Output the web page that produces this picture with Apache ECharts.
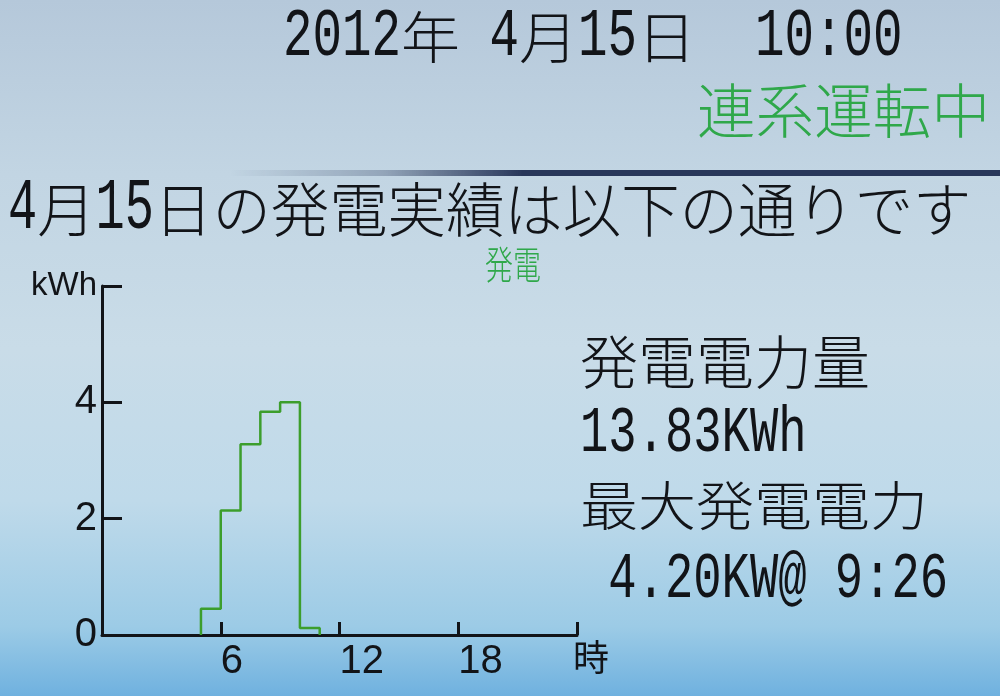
<!DOCTYPE html>
<html>
<head>
<meta charset="utf-8">
<script src="https://cdn.jsdelivr.net/npm/echarts@6/dist/echarts.min.js"></script>
<style>
html,body{margin:0;padding:0;}
#main{width:1000px;height:696px;background:linear-gradient(180deg,#b5c8da 0%,#c2d5e3 25%,#c9dce8 50%,#bfdaea 72%,#9ccbe6 90%,#6fb1df 100%);}
</style>
</head>
<body>
<div id="main"></div>
<script>
// ---- data ----
const dateLine = '2012年 4月15日  10:00';
const statusText = '連系運転中';
const headline = '4月15日の発電実績は以下の通りです';
const seriesName = '発電';
const totalLabel = '発電電力量';
const totalValue = '13.83KWh';
const peakLabel = '最大発電電力';
const peakValue = ' 4.20KW@ 9:26';
const yUnit = 'kWh';
const xUnit = '時';
const hours = [5, 6, 7, 8, 9, 10];
const kwh = [0.45, 2.14, 3.28, 3.84, 4.00, 0.12];
const xTickLabels = [6, 12, 18];
const yTickLabels = [0, 2, 4];

// ---- text layout helper (monospaced LCD font emulation) ----
function monoLine(str, left, cy, cw, o) {
  const els = [];
  let col = 0, i = 0;
  while (i < str.length) {
    const wide = str.charCodeAt(i) > 0x7f;
    let j = i;
    while (j < str.length && (str.charCodeAt(j) > 0x7f) === wide) j++;
    const run = str.slice(i, j);
    const x = left + col * cw;
    if (wide) {
      els.push({type: 'text', x: x, y: cy, scaleY: o.ky || 1, silent: true, z: 10,
        style: {text: run, fill: o.fill, font: '300 ' + (2 * cw) + 'px "Noto Sans CJK JP"',
          textAlign: 'left', textVerticalAlign: 'middle'}});
      col += 2 * run.length;
    } else {
      els.push({type: 'text', x: x, y: cy, scaleY: o.ay || 1, silent: true, z: 10,
        style: {text: run, fill: o.fill, font: (cw / 0.6).toFixed(1) + 'px "Liberation Mono"',
          textAlign: 'left', textVerticalAlign: 'middle'}});
      col += run.length;
    }
    i = j;
  }
  return els;
}

const black = '#121418';
const green = '#2fa84a';
let graphics = [];
graphics = graphics.concat(monoLine(dateLine, 283, 37, 29.5, {fill: black, ky: 0.95, ay: 1.41}));
graphics = graphics.concat(monoLine(statusText, 697, 111, 29.3, {fill: green, ky: 1.0}));
graphics = graphics.concat(monoLine(headline, 8, 209, 29.2, {fill: black, ky: 1.02, ay: 1.5}));
graphics = graphics.concat(monoLine(seriesName, 485, 264, 14, {fill: green, ky: 1.4}));
graphics = graphics.concat(monoLine(totalLabel, 580, 362, 29, {fill: black, ky: 1.0}));
graphics = graphics.concat(monoLine(totalValue, 580, 434, 28.3, {fill: black, ay: 1.38}));
graphics = graphics.concat(monoLine(peakLabel, 580, 506, 29, {fill: black, ky: 0.92}));
graphics = graphics.concat(monoLine(peakValue, 580, 580, 28.3, {fill: black, ay: 1.38}));
graphics.push({
  type: 'rect', silent: true, z: 5,
  shape: {x: 230, y: 170, width: 770, height: 6},
  style: {fill: {type: 'linear', x: 0, y: 0, x2: 1, y2: 0, colorStops: [
    {offset: 0, color: 'rgba(40,55,90,0)'},
    {offset: 0.2, color: 'rgba(40,55,90,0.3)'},
    {offset: 0.38, color: 'rgba(40,55,90,1)'},
    {offset: 1, color: 'rgba(40,55,90,1)'}]}}
});

// ---- series data built from arrays ----
const stepData = [[hours[0], 0]];
hours.forEach((h, i) => stepData.push([h, kwh[i]]));
stepData.push([hours[hours.length - 1] + 1, 0]);

const labelFont = '"Liberation Sans"';
const chart = echarts.init(document.getElementById('main'), null, {renderer: 'canvas'});
chart.setOption({
  backgroundColor: 'transparent',
  animation: false,
  grid: {left: 102, right: 423, top: 286, bottom: 61, containLabel: false},
  xAxis: {
    type: 'value', min: 0, max: 24, interval: 6,
    name: xUnit, nameLocation: 'end', nameGap: 14,
    nameTextStyle: {color: black, fontSize: 36, fontFamily: 'Noto Sans CJK JP', align: 'center', verticalAlign: 'top', padding: [4, 0, 0, 0]},
    axisLine: {show: true, lineStyle: {color: black, width: 3}},
    axisTick: {show: true, inside: true, length: 13, lineStyle: {color: black, width: 3}},
    axisLabel: {
      show: true, margin: 7, align: 'left', verticalAlign: 'top',
      color: black, fontSize: 40, fontFamily: labelFont,
      formatter: v => xTickLabels.indexOf(v) >= 0 ? String(v) : ''
    },
    splitLine: {show: false}
  },
  yAxis: {
    type: 'value', min: 0, max: 6, interval: 2,
    name: yUnit, nameLocation: 'end', nameGap: 0,
    nameTextStyle: {color: black, fontSize: 33, fontFamily: labelFont, align: 'right', verticalAlign: 'middle', padding: [0, 5, 0, 0]},
    axisLine: {show: true, lineStyle: {color: black, width: 3}},
    axisTick: {show: true, inside: true, length: 20, lineStyle: {color: black, width: 3}},
    axisLabel: {
      show: true, margin: 5, color: black, fontSize: 40, fontFamily: labelFont,
      formatter: v => yTickLabels.indexOf(v) >= 0 ? String(v) : ''
    },
    splitLine: {show: false}
  },
  series: [{
    name: seriesName, type: 'line', step: 'end', data: stepData,
    symbol: 'none', lineStyle: {color: '#3c9e2c', width: 2.5}, z: 3
  }],
  graphic: graphics
});
</script>
</body>
</html>
